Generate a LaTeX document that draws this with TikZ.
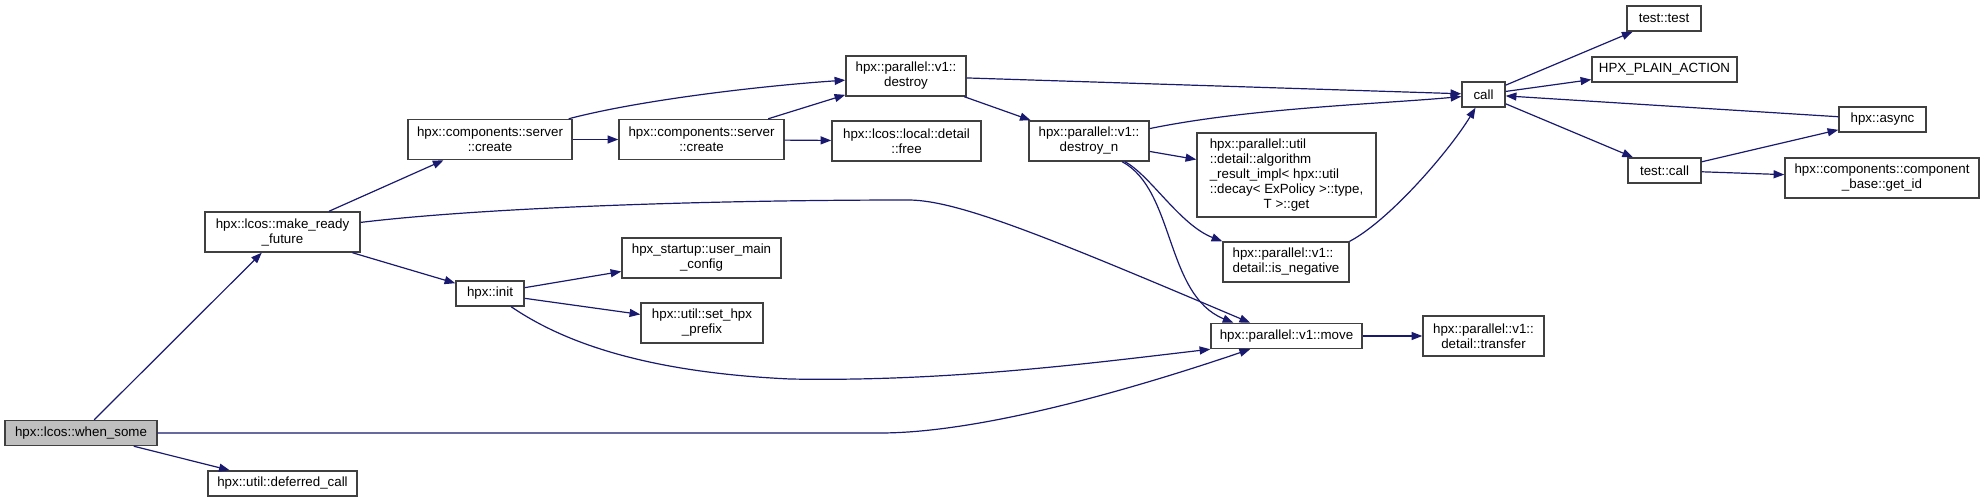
\documentclass[tikz,border=0pt]{standalone}
\usepackage{fontspec}
\setmainfont{Liberation Sans}
\usetikzlibrary{arrows.meta}
\definecolor{midnight}{RGB}{25,25,112}
\definecolor{boxline}{RGB}{64,64,64}
\definecolor{grey75}{RGB}{191,191,191}

\begin{document}
\begin{tikzpicture}[x=0.75pt,y=-0.75pt,>={Triangle[length=8pt,width=6pt]},
    box/.style={draw=boxline,line width=1.1pt,align=center,inner sep=1pt,
      font=\fontsize{10pt}{11.25pt}\selectfont,minimum height=30pt},
    slim/.style={box,minimum height=18.75pt},
    link/.style={->,draw=midnight,line width=0.9pt}]
  \useasboundingbox (0,0) rectangle (1985,503);

  % callers on the left
  \node[slim,fill=grey75,minimum width=114pt] (ws) at (81,433) {hpx::lcos::when\_some};
  \node[box,minimum width=116.25pt] (mrf) at (282.5,232) {hpx::lcos::make\_ready\\\_future};
  \node[slim,minimum width=111.75pt] (dcall) at (282.5,483.5) {hpx::util::deferred\_call};
  \node[box,minimum width=123pt] (cr1) at (490,139.5) {hpx::components::server\\::create};
  \node[box,minimum width=123.75pt] (cr2) at (701.5,139.5) {hpx::components::server\\::create};
  \node[box,minimum width=111.75pt] (free) at (906.5,141) {hpx::lcos::local::detail\\::free};
  \node[box,minimum width=90pt] (destroy) at (906,76) {hpx::parallel::v1::\\destroy};
  \node[slim,minimum width=51pt] (init) at (490,293.5) {hpx::init};
  \node[box,minimum width=119.25pt] (umc) at (701.5,258) {hpx\_startup::user\_main\\\_config};
  \node[box,minimum width=91.5pt] (prefix) at (702,323) {hpx::util::set\_hpx\\\_prefix};

  % parallel algorithms
  \node[box,minimum width=90pt] (dn) at (1089,141) {hpx::parallel::v1::\\destroy\_n};
  \node[box,minimum width=134.25pt,minimum height=63pt] (alg) at (1286.5,175)
    {\begin{tabular}{@{}l@{}}hpx::parallel::util\\::detail::algorithm\\\_result\_impl< hpx::util\\::decay< ExPolicy >::type,\\\multicolumn{1}{@{}c@{}}{T >::get}\end{tabular}};
  \node[box,align=left,minimum width=94.5pt] (neg) at (1286,262) {hpx::parallel::v1::\\detail::is\_negative};
  \node[slim,minimum width=113.25pt] (move) at (1286.5,336) {hpx::parallel::v1::move};
  \node[box,minimum width=90.75pt] (transfer) at (1483.5,336) {hpx::parallel::v1::\\detail::transfer};

  % right hand side
  \node[slim,minimum width=32.25pt] (call) at (1483.5,94.5) {call};
  \node[slim,minimum width=55.5pt] (ttest) at (1664,18.5) {test::test};
  \node[slim,minimum width=108.75pt] (hpa) at (1664.5,69.5) {HPX\_PLAIN\_ACTION};
  \node[slim,minimum width=65.25pt] (async) at (1882.5,119.5) {hpx::async};
  \node[slim,minimum width=54.75pt] (tcall) at (1664.5,170.5) {test::call};
  \node[box,minimum width=145.5pt] (getid) at (1882,178) {hpx::components::component\\\_base::get\_id};

  \draw[link] (ws) -- (mrf);
  \draw[link] (ws) -- (dcall);
  \draw[link] (ws.east) -- (880,433) .. controls (980,433) and (1130,390) .. (move.200);
  \draw[link] (mrf) -- (cr1);
  \draw[link] (mrf.7) .. controls (480,208) and (700,200) .. (910,200)
    .. controls (960,201) and (1050,238) .. (move.160);
  \draw[link] (mrf) -- (init);
  \draw[link] (cr1) -- (cr2);
  \draw[link] (cr1) .. controls (640,100) and (760,86) .. (destroy);
  \draw[link] (cr2) -- (destroy);
  \draw[link] (cr2) -- (free);
  \draw[link] (destroy) -- (dn);
  \draw[link] (destroy) -- (call);
  \draw[link] (dn) .. controls (1250,108) and (1380,104) .. (call);
  \draw[link] (dn) -- (alg);
  \draw[link] (dn.-30) .. controls (1150,175) and (1180,225) .. (neg.north west);
  \draw[link] (dn.-32) .. controls (1175,190) and (1165,295) .. (move.166);
  \draw[link] (neg.north east) .. controls (1390,220) and (1450,150) .. (call);
  \draw[link] (move) -- (transfer);
  \draw[link] (init) -- (umc);
  \draw[link] (init) -- (prefix);
  \draw[link] (init.-32) .. controls (560,340) and (640,372) .. (790,379)
    .. controls (950,382) and (1100,362) .. (move.south west);
  \draw[link] (call) -- (ttest);
  \draw[link] (call) -- (hpa);
  \draw[link] (async) -- (call);
  \draw[link] (call) -- (tcall);
  \draw[link] (tcall) -- (async);
  \draw[link] (tcall) -- (getid);
\end{tikzpicture}
\end{document}
